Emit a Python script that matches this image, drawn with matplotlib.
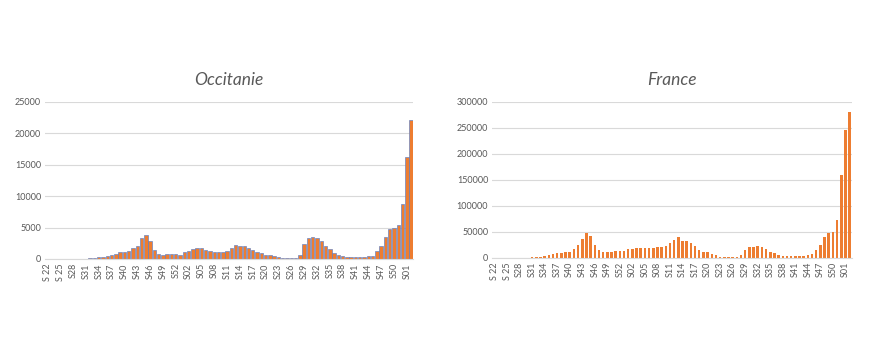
import matplotlib
matplotlib.use("Agg")
import matplotlib.pyplot as plt
import numpy as np

plt.rcParams["font.family"] = ["Lato", "DejaVu Sans"]

# week labels: 2020 S22..S53, 2021 S01..S52, 2022 S01..S02
weeks_2020 = [f"S {w}" if w < 28 else f"S{w}" for w in range(22, 54)]
weeks_2021 = [f"S{w:02d}" for w in range(1, 53)]
weeks_2022 = ["S01", "S02"]
weeks = weeks_2020 + weeks_2021 + weeks_2022

occitanie_2020 = [30, 30, 30, 30, 30, 30, 30, 30, 30, 50,
                  80, 150, 250, 350, 450, 650, 750, 1100, 1050, 1200,
                  1800, 2100, 3300, 3800, 2800, 1500, 800, 700, 750, 750,
                  800, 700]
occitanie_2021 = [1150, 1300, 1600, 1800, 1800, 1500, 1200, 1100, 1100, 1100,
                  1250, 1800, 2300, 2000, 2000, 1750, 1500, 1150, 950, 700,
                  600, 550, 250, 120, 100, 80, 100, 700, 2400, 3400,
                  3450, 3300, 2900, 2100, 1600, 1000, 600, 400, 350, 250,
                  250, 300, 350, 400, 450, 1200, 2100, 3500, 4800, 5000,
                  5400, 8700]
occitanie_2022 = [16300, 22100]

france_2020 = [50, 80, 100, 150, 200, 250, 300, 500, 800, 1200,
               1800, 2500, 3500, 5500, 7500, 9000, 10000, 10500, 11000, 17000,
               24000, 37000, 47000, 43000, 25000, 15500, 11000, 10500, 11000, 13000,
               12500, 13000]
france_2021 = [18000, 17500, 19500, 20000, 20000, 18500, 19500, 21000, 21000, 23000,
               29500, 35000, 40000, 32000, 32000, 29000, 23000, 16000, 11500, 11500,
               7700, 6000, 2600, 1500, 1000, 1000, 2000, 6500, 16000, 20500,
               22000, 23000, 20500, 17000, 12000, 9000, 6000, 4500, 4000, 3500,
               4000, 4500, 4500, 6000, 8500, 15500, 25500, 40000, 47000, 50500,
               73000, 160000]
france_2022 = [245000, 281000]

occitanie = occitanie_2020 + occitanie_2021 + occitanie_2022
france = france_2020 + france_2021 + france_2022

ORANGE = "#ED7D31"
BLUE = "#5B7FC7"
GRID = "#D9D9D9"
TEXT = "#595959"


def style_axis(ax, title, ymax, ystep):
    x = np.arange(len(weeks))
    ax.set_xlim(-0.5, len(weeks) - 0.5)
    ax.set_ylim(0, ymax)
    ax.set_yticks(np.arange(0, ymax + 1, ystep))
    ax.set_xticks(x[::3])
    ax.set_xticklabels(weeks[::3], rotation=90)
    ax.tick_params(axis="both", length=0, labelsize=6.5, colors=TEXT, pad=3)
    ax.grid(axis="y", color=GRID, linewidth=0.8)
    ax.set_axisbelow(True)
    for side in ["top", "right", "left"]:
        ax.spines[side].set_visible(False)
    ax.spines["bottom"].set_color(GRID)
    ax.set_title(title, fontsize=12.5, style="italic", color=TEXT, pad=12)


fig = plt.figure(figsize=(8.7, 3.5), dpi=100)

ax1 = fig.add_axes([0.052, 0.26, 0.423, 0.449])
ax1.bar(np.arange(len(weeks)), occitanie, width=0.8, color=ORANGE,
        edgecolor=BLUE, linewidth=0.45)
style_axis(ax1, "Occitanie", 25000, 5000)

ax2 = fig.add_axes([0.566, 0.263, 0.413, 0.446])
ax2.bar(np.arange(len(weeks)), france, width=0.6, color=ORANGE)
style_axis(ax2, "France", 300000, 50000)

fig.savefig("out.png", dpi=100, facecolor="white")
